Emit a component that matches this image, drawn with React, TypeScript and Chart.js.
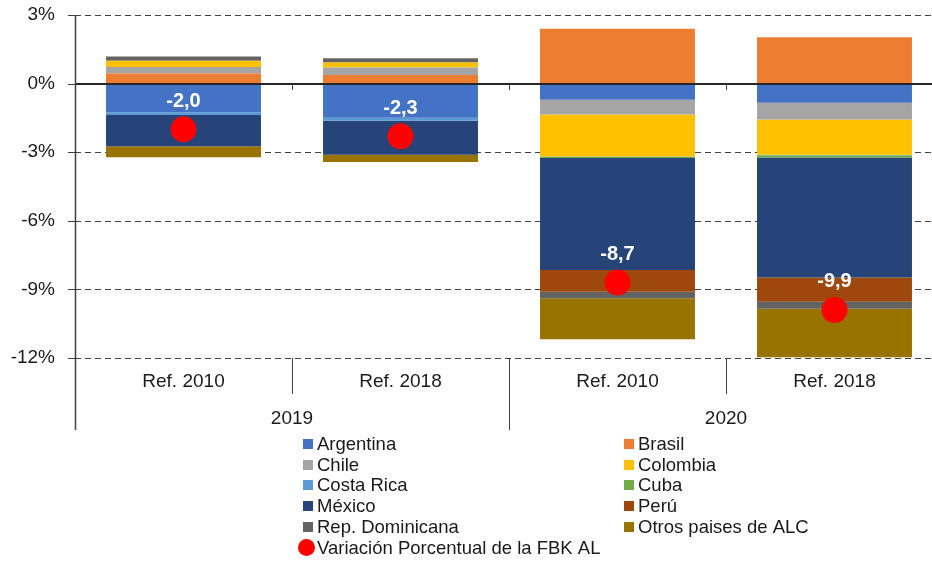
import React, { useEffect, useRef } from 'react';
import { Chart, registerables } from 'chart.js';

Chart.register(...registerables);

const categories = ['Ref. 2010', 'Ref. 2018', 'Ref. 2010', 'Ref. 2018'];
const years = ['2019', '2020'];
const yTickValues = [3, 0, -3, -6, -9, -12];

const argentina = [-1.25, -1.49, -0.71, -0.84];
const brasil = [0.44, 0.38, 2.4, 2.03];
const chile = [0.29, 0.32, -0.64, -0.73];
const colombia = [0.27, 0.22, -1.84, -1.54];
const costaRica = [-0.12, -0.13, -0.02, -0.02];
const cuba = [0, 0, -0.04, -0.1];
const mexico = [-1.37, -1.49, -4.9, -5.25];
const peru = [0, 0, -0.95, -1.06];
const repDominicana = [0.19, 0.19, -0.29, -0.31];
const otros = [-0.48, -0.32, -1.79, -2.12];
const fbk = [-2.0, -2.3, -8.7, -9.9];
const fbkLabels = ['-2,0', '-2,3', '-8,7', '-9,9'];

const seriesNames = [
  'Argentina', 'Brasil', 'Chile', 'Colombia', 'Costa Rica',
  'Cuba', 'México', 'Perú', 'Rep. Dominicana', 'Otros paises de ALC',
];
const seriesData = [argentina, brasil, chile, colombia, costaRica, cuba, mexico, peru, repDominicana, otros];
const seriesColors = [
  '#4472C4', '#ED7D31', '#A5A5A5', '#FFC000', '#5B9BD5',
  '#70AD47', '#264478', '#9E480E', '#636363', '#997300',
];
const dotName = 'Variación Porcentual de la FBK AL';

const FONT = '"Liberation Sans", Arial, Helvetica, sans-serif';
const TEXT = '#1a1a1a';
const LINE = '#404040';

const customPlugin = {
  id: 'customDraw',
  beforeDatasetsDraw(chart: any) {
    const { ctx, chartArea, scales } = chart;
    const y = scales.y;
    ctx.save();
    ctx.strokeStyle = LINE;
    ctx.lineWidth = 1;
    ctx.setLineDash([6, 4]);
    for (const v of yTickValues) {
      if (v === 0) continue;
      const py = Math.round(y.getPixelForValue(v)) + 0.5;
      ctx.beginPath();
      ctx.moveTo(chartArea.left, py);
      ctx.lineTo(chartArea.right, py);
      ctx.stroke();
    }
    ctx.restore();
  },
  afterDatasetsDraw(chart: any) {
    const { ctx, chartArea, scales } = chart;
    const y = scales.y;
    const x = scales.x;
    const left = chartArea.left;
    const right = chartArea.right;
    const bottom = chartArea.bottom;
    const n = categories.length;
    const w = (right - left) / n;
    const zero = Math.round(y.getPixelForValue(0));
    ctx.save();
    ctx.setLineDash([]);
    ctx.strokeStyle = '#262626';
    ctx.lineWidth = 2;
    ctx.beginPath();
    ctx.moveTo(left, zero);
    ctx.lineTo(right, zero);
    ctx.stroke();
    ctx.strokeStyle = LINE;
    ctx.lineWidth = 1.5;
    const ax = left + 0.5;
    ctx.beginPath();
    ctx.moveTo(ax, chartArea.top);
    ctx.lineTo(ax, bottom + 72);
    ctx.stroke();
    ctx.lineWidth = 1;
    for (const v of yTickValues) {
      const py = Math.round(y.getPixelForValue(v)) + 0.5;
      ctx.beginPath();
      ctx.moveTo(left - 7, py);
      ctx.lineTo(left, py);
      ctx.stroke();
    }
    for (let i = 1; i <= n; i++) {
      const bx = Math.round(left + i * w) + 0.5;
      if (i < n) {
        ctx.beginPath();
        ctx.moveTo(bx, zero);
        ctx.lineTo(bx, zero + 6);
        ctx.stroke();
      }
      const long = i % 2 === 0;
      ctx.beginPath();
      ctx.moveTo(bx, bottom);
      ctx.lineTo(bx, bottom + (long ? 72 : 36));
      ctx.stroke();
    }
    ctx.fillStyle = '#ffffff';
    ctx.font = `bold 20px ${FONT}`;
    ctx.textAlign = 'center';
    ctx.textBaseline = 'middle';
    for (let i = 0; i < n; i++) {
      const px = x.getPixelForValue(i);
      const py = y.getPixelForValue(fbk[i]);
      ctx.fillText(fbkLabels[i], px, py - 28);
    }
    ctx.restore();
  },
  afterDraw(chart: any) {
    const { ctx } = chart;
    ctx.save();
    ctx.font = `18.5px ${FONT}`;
    ctx.textBaseline = 'middle';
    ctx.textAlign = 'left';
    const colX = [303, 624];
    const rowY0 = 444;
    const rowH = 20.7;
    for (let i = 0; i < seriesNames.length; i++) {
      const col = i % 2;
      const row = Math.floor(i / 2);
      const cy = rowY0 + row * rowH;
      ctx.fillStyle = seriesColors[i];
      ctx.fillRect(colX[col], Math.round(cy - 5), 10, 10);
      ctx.fillStyle = TEXT;
      ctx.fillText(seriesNames[i], colX[col] + 14, cy + 1);
    }
    const cy = rowY0 + 5 * rowH;
    ctx.fillStyle = '#FF0000';
    ctx.beginPath();
    ctx.arc(306.5, cy, 8.5, 0, Math.PI * 2);
    ctx.fill();
    ctx.fillStyle = TEXT;
    ctx.fillText(dotName, 317, cy + 1);
    ctx.restore();
  },
};

export default function App() {
  const canvasRef = useRef<HTMLCanvasElement | null>(null);

  useEffect(() => {
    const canvas = canvasRef.current;
    if (!canvas) return;
    const barSets = seriesNames.map((name, i) => ({
      type: 'bar' as const,
      label: name,
      data: seriesData[i],
      backgroundColor: seriesColors[i],
      borderWidth: 0,
      stack: 'bars',
      order: 1,
      barPercentage: 0.714,
      categoryPercentage: 1,
    }));
    const chart = new Chart(canvas, {
      type: 'bar',
      data: {
        labels: categories,
        datasets: [
          ...barSets,
          {
            type: 'line' as const,
            label: dotName,
            data: fbk,
            showLine: false,
            pointRadius: 13,
            pointHoverRadius: 13,
            pointBackgroundColor: '#FF0000',
            pointBorderWidth: 0,
            borderColor: '#FF0000',
            backgroundColor: '#FF0000',
            stack: 'dots',
            order: 0,
          } as any,
        ],
      },
      options: {
        responsive: false,
        maintainAspectRatio: false,
        devicePixelRatio: 1,
        animation: false,
        events: [],
        layout: { padding: { left: 0, right: 17, top: 0, bottom: 130 } },
        plugins: {
          legend: { display: false },
          tooltip: { enabled: false },
          title: { display: false },
        },
        scales: {
          x: {
            type: 'category',
            position: 'bottom',
            weight: 0,
            offset: true,
            grid: { display: false, drawTicks: false },
            border: { display: false },
            ticks: {
              font: { family: FONT, size: 19 },
              color: TEXT,
              padding: 12.6,
              maxRotation: 0,
              autoSkip: false,
            },
            afterFit: (s: any) => { s.height = 40; },
          },
          x2: {
            type: 'category',
            position: 'bottom',
            weight: 1,
            labels: years,
            offset: true,
            grid: { display: false, drawTicks: false },
            border: { display: false },
            ticks: {
              font: { family: FONT, size: 19 },
              color: TEXT,
              padding: 9.6,
              maxRotation: 0,
              autoSkip: false,
            },
            afterFit: (s: any) => { s.height = 35; },
          },
          y: {
            stacked: true,
            min: -12,
            max: 3,
            grid: { display: false, drawTicks: false },
            border: { display: false },
            ticks: {
              stepSize: 3,
              font: { family: FONT, size: 19 },
              color: TEXT,
              padding: 20,
              callback: (v: any) => `${v}%`,
            },
            afterFit: (s: any) => { s.width = 75; s.paddingTop = 15; },
          },
        },
      },
      plugins: [customPlugin],
    });
    return () => chart.destroy();
  }, []);

  return (
    <div style={{ position: 'fixed', left: 0, top: 0, width: 932, height: 563, overflow: 'hidden', background: '#fff' }}>
      <div style={{ width: 960, height: 563 }}>
        <canvas ref={canvasRef} width={960} height={563} style={{ width: 960, height: 563, display: 'block' }} />
      </div>
    </div>
  );
}
